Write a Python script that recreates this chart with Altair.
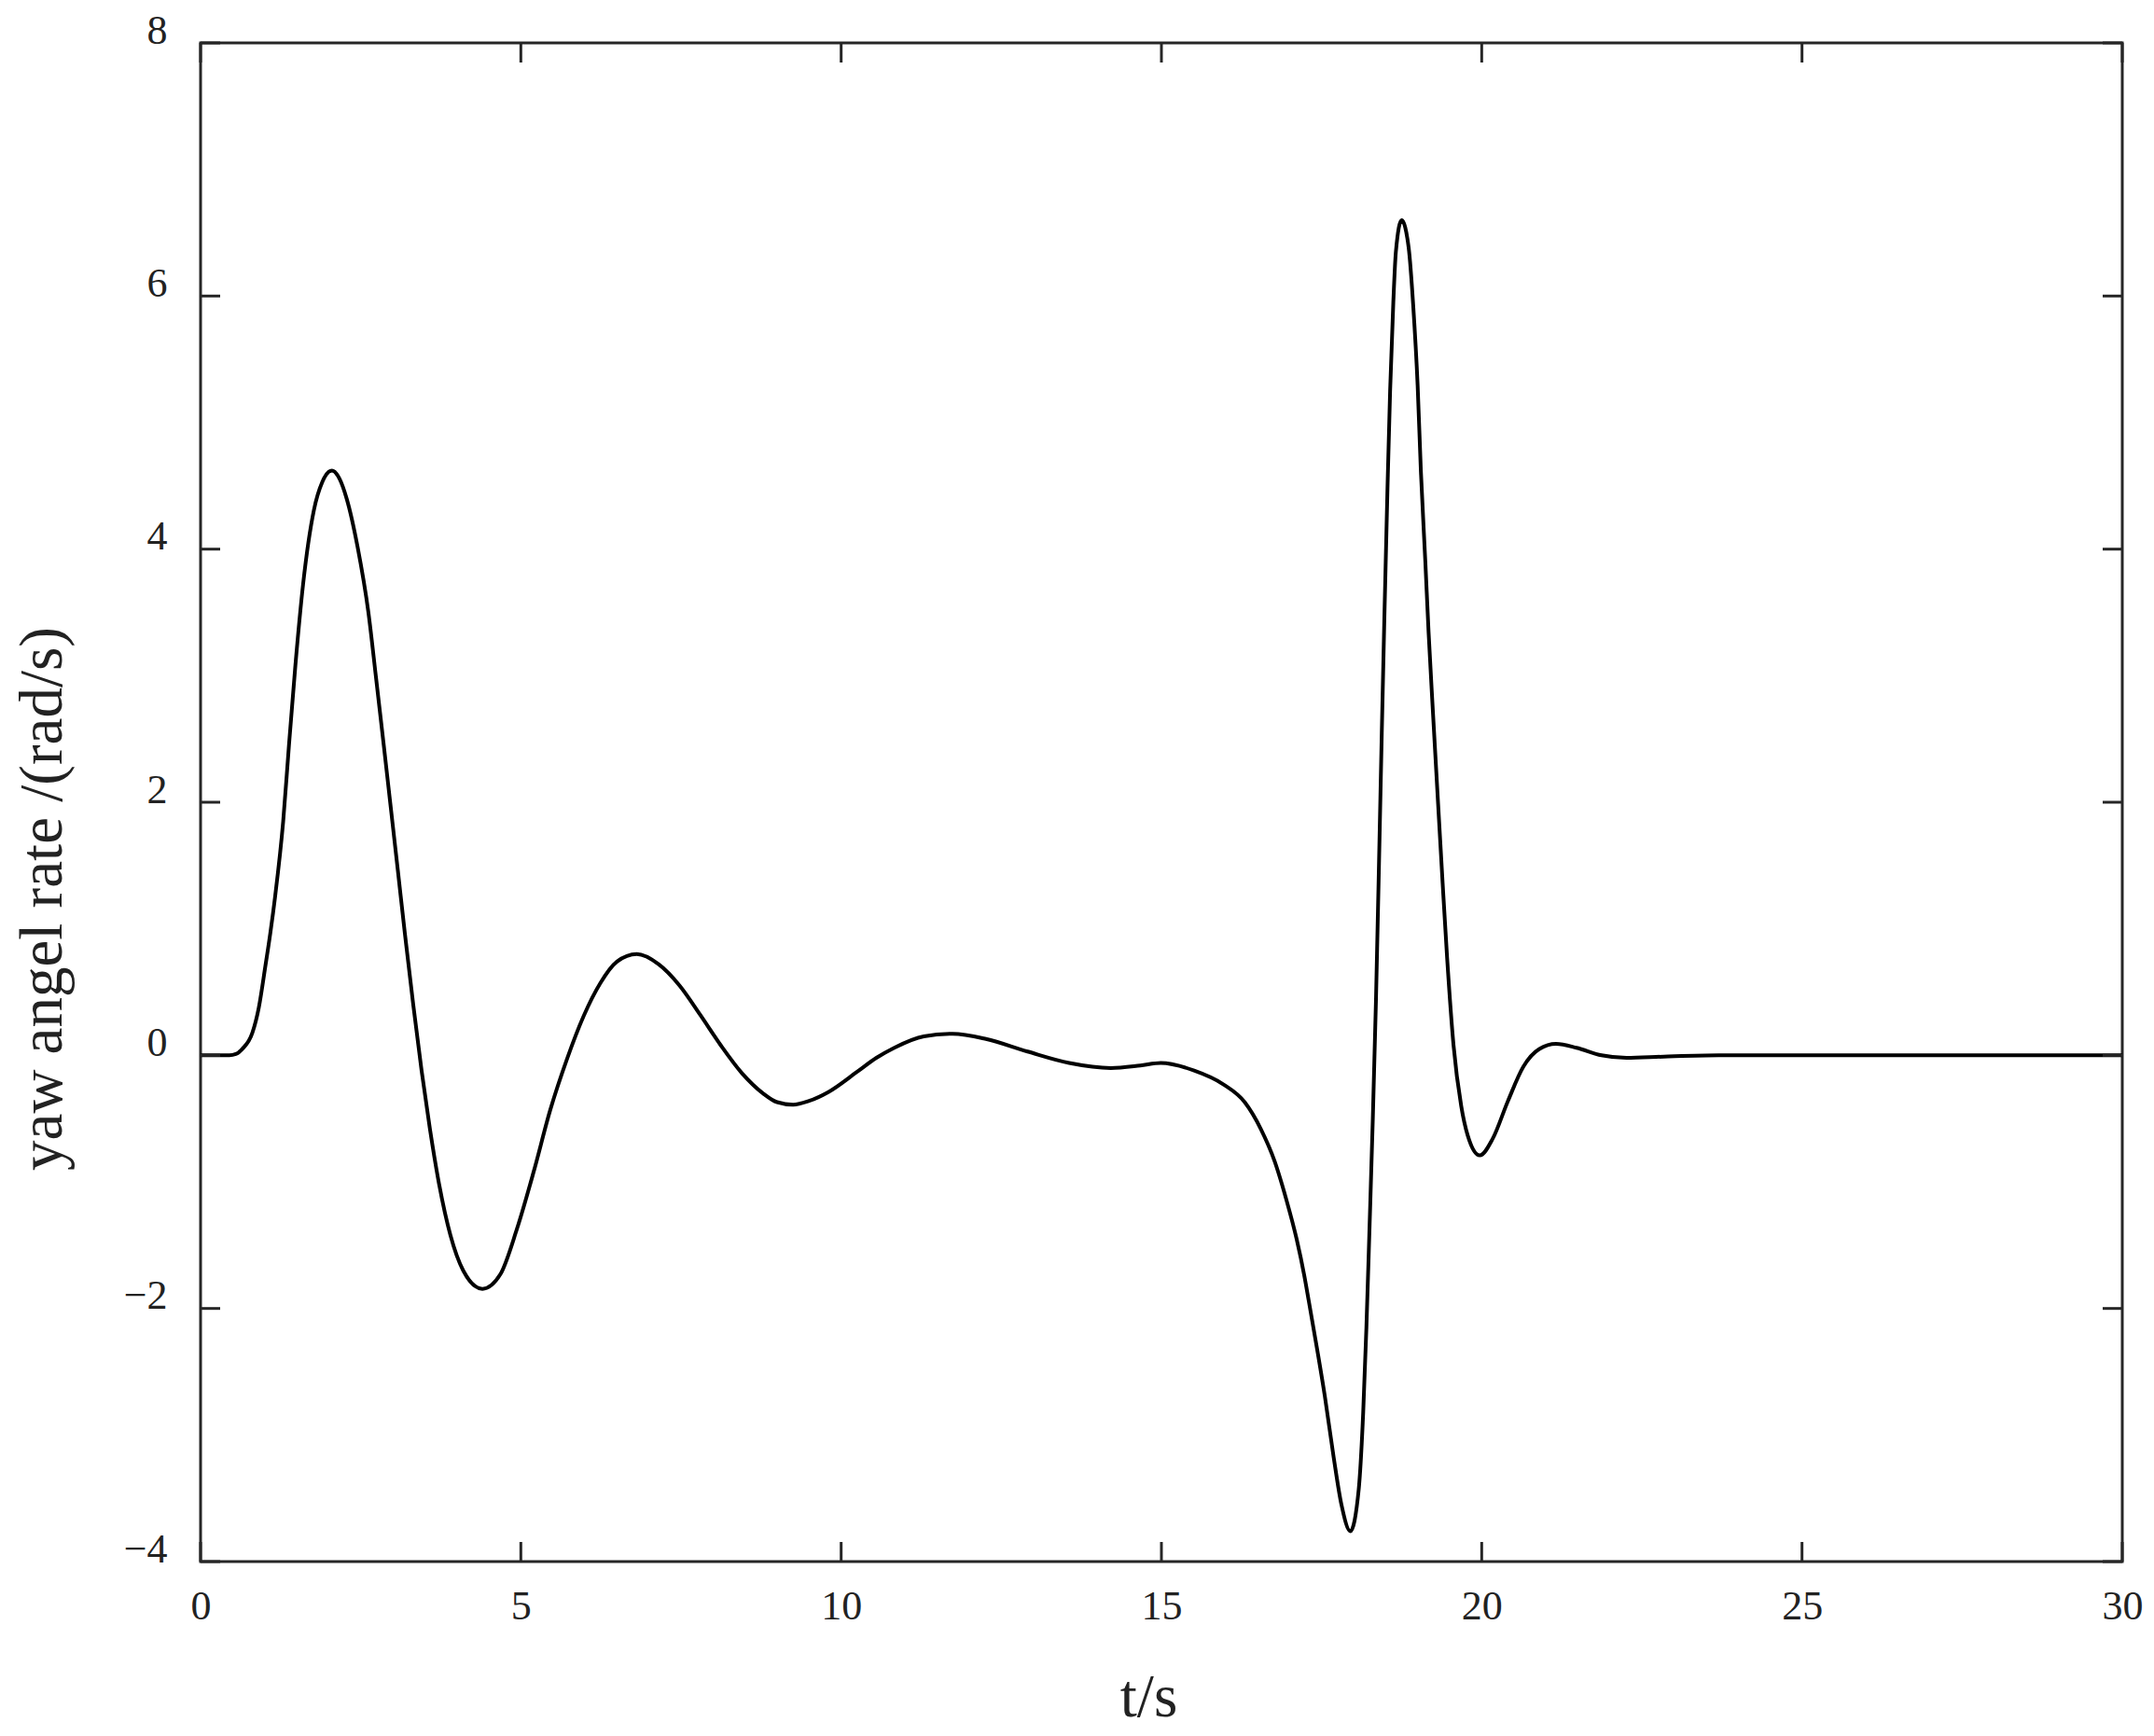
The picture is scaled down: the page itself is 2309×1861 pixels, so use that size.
import altair as alt
import pandas as pd

# ---- data ----
t_values = [0.0, 0.45, 0.55, 0.65, 0.81, 0.91, 1.01, 1.09, 1.165, 1.29, 1.38, 1.48, 1.60, 1.77,
            1.90, 2.05, 2.17, 2.28, 2.45, 2.62, 2.74, 2.86, 2.96, 3.08, 3.19, 3.32, 3.45, 3.58,
            3.71, 3.90, 4.10, 4.40, 4.68, 4.94, 5.20, 5.46, 5.72, 5.98, 6.24, 6.50, 6.81, 7.15,
            7.48, 7.80, 8.12, 8.45, 8.78, 9.00, 9.25, 9.50, 9.80, 10.25, 10.55, 10.83, 11.29,
            11.74, 12.26, 12.91, 13.56, 14.21, 14.67, 14.99, 15.51, 15.97, 16.30, 16.55, 16.77,
            16.95, 17.11, 17.23, 17.30, 17.43, 17.55, 17.69, 17.81, 17.95, 18.08, 18.15, 18.20,
            18.25, 18.30, 18.35, 18.40, 18.44, 18.48, 18.53, 18.57, 18.62, 18.66, 18.75, 18.86,
            18.93, 19.00, 19.05, 19.12, 19.17, 19.24, 19.32, 19.39, 19.46, 19.56, 19.68, 19.78,
            19.97, 20.17, 20.41, 20.65, 20.90, 21.16, 21.48, 21.87, 22.26, 22.84, 23.70, 30.0]
yaw_rate = [0.0, 0.0, 0.01, 0.05, 0.18, 0.38, 0.70, 0.97, 1.26, 1.85, 2.45, 3.08, 3.72, 4.31,
            4.53, 4.62, 4.555, 4.40, 4.02, 3.50, 2.98, 2.45, 2.00, 1.46, 0.96, 0.40, -0.12, -0.58,
            -0.98, -1.42, -1.70, -1.845, -1.73, -1.37, -0.92, -0.43, -0.03, 0.31, 0.57, 0.74, 0.80, 0.72,
            0.55, 0.32, 0.08, -0.14, -0.30, -0.37, -0.39, -0.36, -0.29, -0.13, -0.02, 0.06, 0.15,
            0.17, 0.13, 0.03, -0.06, -0.10, -0.08, -0.06, -0.12, -0.23, -0.37, -0.58, -0.84,
            -1.14, -1.45, -1.74, -1.94, -2.32, -2.69, -3.18, -3.55, -3.76, -3.43, -2.82, -2.15,
            -1.34, -0.50, 0.45, 1.60, 2.55, 3.45, 4.50, 5.25, 5.95, 6.35, 6.60, 6.38,
            5.93, 5.29, 4.62, 3.90, 3.35, 2.70, 1.98, 1.36, 0.77, 0.08, -0.40, -0.63,
            -0.79, -0.66, -0.36, -0.09, 0.05, 0.09, 0.06, 0.0, -0.02, -0.01, 0.0, 0.0]
x_ticks = [0, 5, 10, 15, 20, 25, 30]
y_ticks = [-4, -2, 0, 2, 4, 6, 8]

W, H = 2060, 1628
TICK = 21
AX = "#262626"
TXT = "#222222"
FONT = "Liberation Serif"

df = pd.DataFrame({"t": t_values, "r": yaw_rate})
xt = pd.DataFrame({"t": x_ticks})
yt = pd.DataFrame({"r": y_ticks})

xscale = alt.Scale(domain=[0, 30], nice=False, zero=False)
yscale = alt.Scale(domain=[-4, 8], nice=False, zero=False)

xaxis = alt.Axis(values=x_ticks, title="t/s", domain=False, ticks=False, tickSize=0,
                 grid=False, labelPadding=26, labelFontSize=44, labelFont=FONT,
                 labelFlush=False, labelColor=TXT, titleFont=FONT, titleFontSize=65,
                 titleFontWeight="normal", titleColor=TXT,
                 titleX=1016, titleY=145, titleBaseline="middle", titleAlign="center")
yaxis = alt.Axis(values=y_ticks, title="yaw angel rate /(rad/s)", domain=False,
                 ticks=False, tickSize=0, grid=False, labelPadding=36,
                 labelBaseline="alphabetic", labelFontSize=44, labelFont=FONT,
                 labelFlush=False, labelColor=TXT, titleFont=FONT, titleFontSize=65,
                 titleFontWeight="normal", titleColor=TXT, titleAngle=-90,
                 titleX=-170, titleY=917, titleBaseline="middle", titleAlign="center")

line = alt.Chart(df).mark_line(color="black", strokeWidth=4, interpolate="monotone").encode(
    x=alt.X("t:Q", scale=xscale, axis=xaxis),
    y=alt.Y("r:Q", scale=yscale, axis=yaxis),
)

tick_style = dict(color=AX, strokeWidth=3)
bottom_ticks = alt.Chart(xt).mark_rule(**tick_style).encode(
    x=alt.X("t:Q", scale=xscale, axis=xaxis), y=alt.value(H), y2=alt.value(H - TICK))
top_ticks = alt.Chart(xt).mark_rule(**tick_style).encode(
    x=alt.X("t:Q", scale=xscale, axis=xaxis), y=alt.value(0), y2=alt.value(TICK))
left_ticks = alt.Chart(yt).mark_rule(**tick_style).encode(
    y=alt.Y("r:Q", scale=yscale, axis=yaxis), x=alt.value(0), x2=alt.value(TICK))
right_ticks = alt.Chart(yt).mark_rule(**tick_style).encode(
    y=alt.Y("r:Q", scale=yscale, axis=yaxis), x=alt.value(W), x2=alt.value(W - TICK))

chart = alt.layer(line, bottom_ticks, top_ticks, left_ticks, right_ticks).properties(
    width=W, height=H,
    background="white",
    autosize=alt.AutoSizeParams(type="none"),
    padding={"left": 207, "top": 38, "right": 26, "bottom": 179},
).configure_view(stroke=AX, strokeWidth=3)

chart.save("out.html", embed_options={"renderer": "svg", "actions": False})
